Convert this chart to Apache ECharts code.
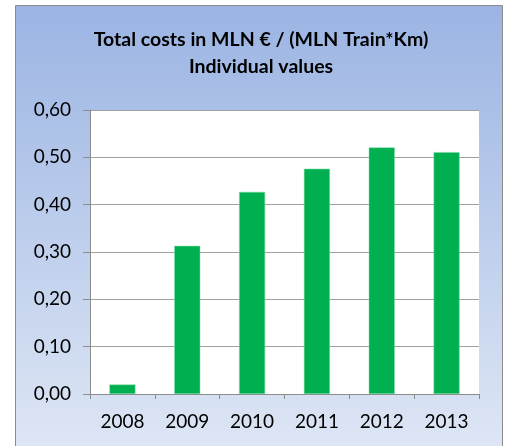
<!DOCTYPE html>
<html>
<head>
<meta charset="utf-8">
<script src="https://cdn.jsdelivr.net/npm/echarts@6/dist/echarts.min.js"></script>
<style>
  html, body { margin: 0; padding: 0; background: #fff; }
  #chart { width: 509px; height: 446px; }
</style>
</head>
<body>
<div id="chart"></div>
<script>
  // data
  var years = ['2008', '2009', '2010', '2011', '2012', '2013'];
  var costs = [0.02, 0.313, 0.427, 0.476, 0.521, 0.511];
  var yTicks = [0, 0.1, 0.2, 0.3, 0.4, 0.5, 0.6];

  var chart = echarts.init(document.getElementById('chart'));
  chart.setOption({
    animation: false,
    textStyle: { fontFamily: 'Lato' },
    graphic: [{
      type: 'rect',
      z: -10,
      shape: { x: 15.5, y: 5.5, width: 487, height: 460 },
      style: {
        fill: new echarts.graphic.LinearGradient(0, 0, 0, 1, [
          { offset: 0, color: '#9bb4e3' },
          { offset: 1, color: '#e0e8f5' }
        ]),
        stroke: '#8c8c8c',
        lineWidth: 1
      }
    }],
    title: {
      text: 'Total costs in MLN € / (MLN Train*Km)\nIndividual values',
      left: 256,
      textAlign: 'center',
      top: 21,
      textStyle: {
        fontFamily: 'Lato',
        fontWeight: 'bold',
        fontSize: 19.5,
        lineHeight: 27,
        color: '#000'
      }
    },
    grid: {
      left: 90, right: 30, top: 110, bottom: 52,
      show: true,
      backgroundColor: '#fff',
      borderWidth: 0
    },
    xAxis: {
      type: 'category',
      data: years,
      axisLine: { lineStyle: { color: '#8c8c8c' } },
      axisTick: { show: true, length: 5, lineStyle: { color: '#8c8c8c' } },
      axisLabel: { color: '#000', fontSize: 19, margin: 18 }
    },
    yAxis: {
      type: 'value',
      min: yTicks[0],
      max: yTicks[yTicks.length - 1],
      interval: 0.1,
      axisLine: { show: true, lineStyle: { color: '#8c8c8c' } },
      axisTick: { show: true, length: 7, lineStyle: { color: '#8c8c8c' } },
      splitLine: { lineStyle: { color: '#a0a0a0' } },
      axisLabel: {
        color: '#000',
        fontSize: 19,
        margin: 19,
        formatter: function (v) { return v.toFixed(2).replace('.', ','); }
      }
    },
    series: [{
      type: 'bar',
      data: costs,
      barWidth: 26,
      itemStyle: { color: '#00b050', borderColor: '#7fdca6', borderWidth: 0.5 }
    }]
  });
</script>
</body>
</html>
